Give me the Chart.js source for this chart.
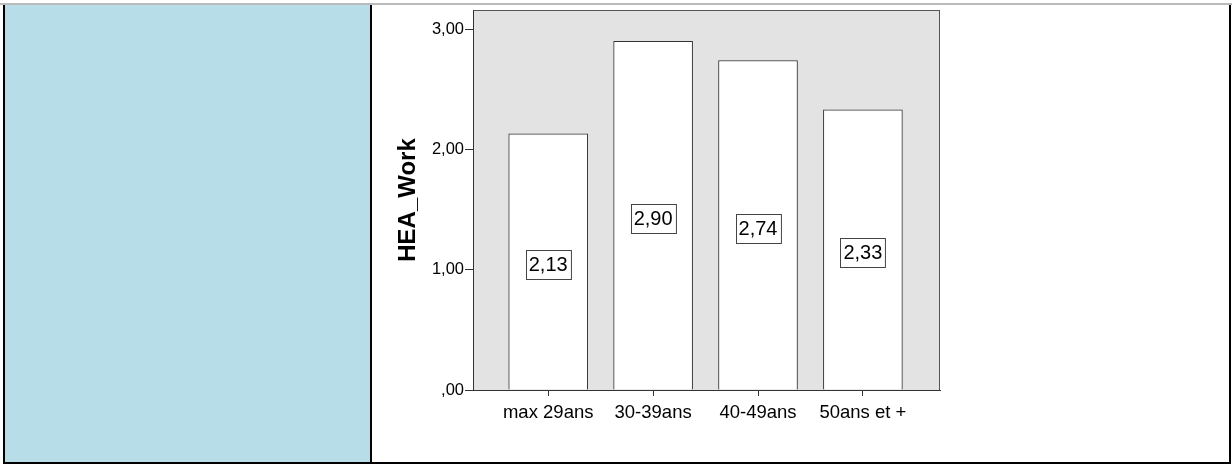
<!DOCTYPE html>
<html>
<head>
<meta charset="utf-8">
<script src="https://cdn.jsdelivr.net/npm/chart.js@4.4.1/dist/chart.umd.min.js"></script>
<style>
  body { margin: 0; background: #fff; width: 1232px; height: 464px; position: relative; overflow: hidden; }
  .ln { position: absolute; }
  #wrap { position: absolute; left: 373px; top: 5px; width: 856px; height: 457px; }
</style>
</head>
<body>
<div class="ln" style="left:0;top:3px;width:1232px;height:2px;background:#bbb"></div>
<div class="ln" style="left:3px;top:5px;width:2px;height:459px;background:#000"></div>
<div class="ln" style="left:5px;top:5px;width:365px;height:457px;background:#b7dde8"></div>
<div class="ln" style="left:370px;top:5px;width:2px;height:457px;background:#000"></div>
<div class="ln" style="left:1229px;top:5px;width:2px;height:459px;background:#000"></div>
<div class="ln" style="left:3px;top:462px;width:1228px;height:2px;background:#000"></div>
<div id="wrap"><canvas id="c"></canvas></div>
<script>
// data
const ageGroups = ['max 29ans', '30-39ans', '40-49ans', '50ans et +']
const heaWork = [2.13, 2.90, 2.74, 2.33]
const yTicks = [0, 1, 2, 3]

const fmt = v => v.toFixed(2).replace('.', ',').replace(/^0,/, ',')
const FONT = '"Liberation Sans", Arial, sans-serif'

const plotFrame = {
  id: 'plotFrame',
  beforeDraw(chart) {
    const { ctx, chartArea: a } = chart
    ctx.save()
    ctx.fillStyle = '#e3e3e3'
    ctx.fillRect(a.left, a.top, a.right - a.left, a.bottom - a.top)
    ctx.strokeStyle = '#555'
    ctx.lineWidth = 1
    ctx.strokeRect(a.left + 0.5, a.top + 0.5, a.right - a.left - 1, a.bottom - a.top)
    ctx.restore()
  }
}

const boxLabels = {
  id: 'boxLabels',
  afterDatasetsDraw(chart) {
    const { ctx } = chart
    const meta = chart.getDatasetMeta(0)
    ctx.save()
    ctx.font = '20px ' + FONT
    ctx.textAlign = 'center'
    ctx.textBaseline = 'middle'
    meta.data.forEach((bar, i) => {
      const txt = fmt(heaWork[i])
      const y = (bar.y + bar.base) / 2 + 3
      const w = ctx.measureText(txt).width + 6
      const h = 29
      const x0 = Math.round(bar.x - w / 2) + 0.5
      const y0 = Math.round(y - h / 2) + 0.5
      ctx.fillStyle = '#fff'
      ctx.fillRect(x0, y0, w, h)
      ctx.strokeStyle = '#444'
      ctx.lineWidth = 1
      ctx.strokeRect(x0, y0, w, h)
      ctx.fillStyle = '#000'
      ctx.fillText(txt, bar.x, y + 1)
    })
    ctx.restore()
  }
}

new Chart(document.getElementById('c'), {
  type: 'bar',
  data: {
    datasets: [{
      data: heaWork.map((v, i) => ({ x: i + 1, y: v })),
      backgroundColor: '#fff',
      borderColor: '#333',
      borderWidth: 1,
      barThickness: 79
    }]
  },
  options: {
    responsive: true,
    maintainAspectRatio: false,
    animation: false,
    layout: { padding: { left: 0, top: 5, right: 289, bottom: 0 } },
    plugins: { legend: { display: false }, tooltip: { enabled: false } },
    scales: {
      x: {
        type: 'linear',
        offset: false,
        min: 0.283,
        max: 4.735,
        afterBuildTicks: s => { s.ticks = ageGroups.map((_, i) => ({ value: i + 1 })) },
        afterFit: s => { s.height = 72; s.paddingLeft = 0; s.paddingRight = 0 },
        grid: { offset: false, drawOnChartArea: false, drawTicks: true, tickLength: 6, tickColor: '#333' },
        border: { color: '#333' },
        ticks: {
          autoSkip: false,
          maxRotation: 0,
          padding: 6,
          color: '#000',
          font: { family: FONT, size: 18.5 },
          callback: v => ageGroups[v - 1]
        }
      },
      y: {
        min: 0,
        max: 3.16,
        afterBuildTicks: s => { s.ticks = yTicks.map(v => ({ value: v })) },
        afterFit: s => { s.width = 100; s.paddingTop = 0; s.paddingBottom = 0 },
        grid: { drawOnChartArea: false, drawTicks: true, tickLength: 8, tickColor: '#333' },
        border: { color: '#333' },
        ticks: {
          padding: 1,
          color: '#000',
          font: { family: FONT, size: 16.5 },
          callback: v => fmt(v)
        },
        title: {
          display: true,
          text: 'HEA_Work',
          color: '#000',
          padding: { top: 21, bottom: 0 },
          font: { family: FONT, size: 24, weight: 'bold' }
        }
      }
    }
  },
  plugins: [plotFrame, boxLabels]
})
</script>
</body>
</html>
